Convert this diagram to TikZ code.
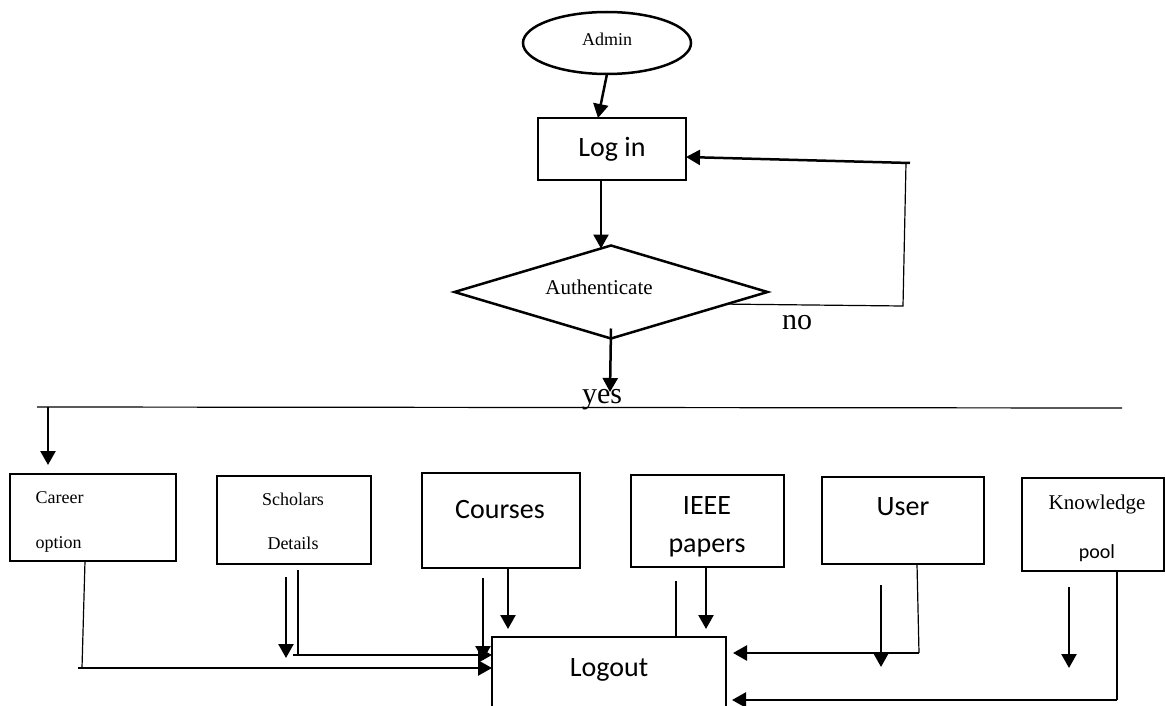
\documentclass[tikz,border=0pt]{standalone}
\usepackage{fontspec}
\setmainfont{Liberation Serif}
\newfontfamily\calibfont{Carlito}
\usetikzlibrary{shapes.geometric,arrows.meta,calc}
\newcommand\sanstext{\calibfont\fontsize{28}{34}\selectfont}
\newcommand\serifsmall{\fontsize{18}{22}\selectfont}

\begin{document}
\begin{tikzpicture}[x=1pt,y=-1pt,
    box/.style={draw,line width=2.5pt,inner sep=0pt,outer sep=0pt},
    arr/.style={line width=2.5pt,-{Triangle[length=14pt,width=15pt]}},
    thickline/.style={line width=2.5pt},
    thinline/.style={line width=1.2pt}]
    \useasboundingbox (0,0) rectangle (1165,706);
    \clip (0,0) rectangle (1165,706);

        \node[box,ellipse,minimum width=168pt,minimum height=62pt] (admin) at (607,43) {};
        \node[box,minimum width=148pt,minimum height=62pt] (login) at (612,149) {};
        \node[box,diamond,minimum width=313pt,minimum height=93pt] (auth) at (611,292) {};

        \node[anchor=base,font=\serifsmall] at (607,46) {Admin};
        \node[anchor=base,font=\sanstext] at (612,157) {Log in};
        \node[anchor=base,font=\fontsize{21}{25}\selectfont] at (599,294) {Authenticate};

        \draw[arr] (admin.south) -- ([xshift=-14pt]login.north);
        \draw[arr] ([xshift=-11pt]login.south) -- ([xshift=-10pt,yshift=-3pt]auth.north);

        \coordinate (nocorner) at (903,306);
        \coordinate (notop) at (906,163);
        \draw[thinline] ($(auth.east)!0.26!(auth.south)$) -- (nocorner) -- (notop);
        \draw[arr] ([xshift=4pt]notop) -- ([yshift=-8pt]login.east);
        \node[anchor=base,font=\fontsize{30}{36}\selectfont] at (797,329) {no};

        \coordinate (yesend) at (610,392);
        \draw[arr] ([yshift=10pt]auth.south) -- (yesend);
        \node[anchor=base,font=\fontsize{30}{36}\selectfont] at (602,403) {yes};

        \coordinate (busleft) at (37,407);
        \coordinate (busright) at (1122,408);
        \draw[thinline] (busleft) -- (busright);

        \node[box,minimum width=166pt,minimum height=87pt] (career) at (93,517.5) {};
        \node[box,minimum width=154pt,minimum height=88pt] (scholars) at (294,520) {};
        \node[box,minimum width=158pt,minimum height=95pt] (courses) at (501,520.5) {};
        \node[box,minimum width=153pt,minimum height=92pt] (ieee) at (707.5,521) {};
        \node[box,minimum width=162pt,minimum height=87pt] (user) at (903,520.5) {};
        \node[box,minimum width=142pt,minimum height=93pt] (knowledge) at (1093,524.5) {};
        \node[box,minimum width=234pt,minimum height=110pt] (logout) at (609,692) {};

        \draw[arr] ([xshift=11pt]busleft) -- ([xshift=-45pt,yshift=9pt]career.north);

        \node[anchor=base west,font=\serifsmall] at (32,503) {Career};
        \node[anchor=base west,font=\serifsmall] at (32,548) {option};
        \node[anchor=base,font=\serifsmall] at (293,505) {Scholars};
        \node[anchor=base,font=\serifsmall] at (293,549) {Details};
        \node[anchor=base,font=\sanstext] at (500,518) {Courses};
        \node[anchor=base,font=\sanstext] at (707,514) {IEEE};
        \node[anchor=base,font=\sanstext] at (707,552) {papers};
        \node[anchor=base,font=\sanstext] at (903,515) {User};
        \node[anchor=base,font=\fontsize{21}{25}\selectfont] at (1097,509) {Knowledge};
        \node[anchor=base,font=\calibfont\fontsize{20}{24}\selectfont] at (1097,558) {pool};
        \node[anchor=base,font=\sanstext] at (609,676) {Logout};

        % links into Logout
        \coordinate (careerbend) at (82,668);
        \draw[thinline] ([xshift=-8pt]career.south) -- (careerbend);
        \draw[arr] ([xshift=-4pt]careerbend) -- (careerbend -| logout.west);

        \coordinate (scholbend) at (298,655);
        \coordinate (scholdown) at (286,577);
        \draw[thinline] ([xshift=4pt,yshift=-6pt]scholars.south) -- (scholbend);
        \draw[arr] ([xshift=-5pt]scholbend) -- (scholbend -| logout.west);
        \draw[arr] (scholdown) -- ++(0,81);

        \coordinate (coursedown) at (483,578);
        \draw[arr] (coursedown) -- ++(0,82);
        \draw[arr] ([xshift=7pt]courses.south) -- ([xshift=-101pt,yshift=8pt]logout.north);

        \coordinate (ieeeline) at (676,581);
        \draw[thickline] (ieeeline) -- (logout.north -| ieeeline);
        \draw[arr] ([xshift=-1.5pt]ieee.south) -- ([xshift=97pt,yshift=8pt]logout.north);

        \coordinate (userbend) at (919,653);
        \coordinate (userdown) at (881,585);
        \draw[thinline] ([xshift=14pt]user.south) -- (userbend);
        \draw[arr,shorten >=7pt] (userbend) -- (userbend -| logout.east);
        \draw[arr] (userdown) -- ++(0,82);

        \coordinate (knowbend) at (1117,700);
        \coordinate (knowdown) at (1069,587);
        \draw[thinline] ([xshift=24pt]knowledge.south) -- (knowbend);
        \draw[arr,shorten >=6pt] (knowbend) -- (knowbend -| logout.east);
        \draw[arr] (knowdown) -- ++(0,81);
\end{tikzpicture}
\end{document}
